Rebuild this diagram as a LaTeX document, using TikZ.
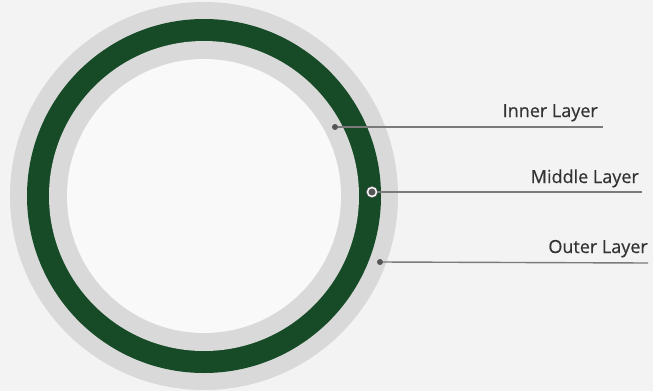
\documentclass[tikz,border=0pt]{standalone}
\usepackage{fontspec}
\setmainfont{Open Sans}
\usetikzlibrary{positioning}
\definecolor{pipegreen}{HTML}{174A26}
\definecolor{pipegrey}{HTML}{D9D9D9}
\definecolor{backgrey}{HTML}{F3F3F3}
\definecolor{dotgrey}{HTML}{555555}
\definecolor{leadgrey}{HTML}{7A7A7A}
\definecolor{textgrey}{HTML}{333333}
\tikzset{
  dot/.style = {circle, fill=dotgrey, inner sep=0pt, minimum size=6pt},
  ringdot/.style = {dot, draw=dotgrey, double=white!90!gray, double distance=1.6pt, line width=0.6pt, minimum size=9pt},
  leader/.style = {draw=leadgrey, line width=1.4pt},
  lbl/.style = {anchor=base east, inner sep=0pt, text=textgrey, font=\fontsize{18}{20}\selectfont\addfontfeature{FakeBold=0.5}}
}

\begin{document}
\begin{tikzpicture}[x=1pt, y=-1pt]
\useasboundingbox[fill=backgrey] (0,0) rectangle (653,391);
% pipe cut
\coordinate (C) at (204,196);
\fill[pipegrey] (C) circle[radius=194];
\fill[pipegreen] (C) circle[radius=177];
\fill[pipegrey] (C) circle[radius=155];
\fill[backgrey!50!white] (C) circle[radius=137];
% markers
\node[dot](innerdot) at (335,127) {};
\node[ringdot](middledot) at (372,192) {};
\node[dot](outerdot) at (380,262) {};
\coordinate (innerend) at (603,127);
\coordinate (middleend) at (642,192);
\coordinate (outerend) at (648,263);
\path[leader](innerdot) -- (innerend);
\path[leader](middledot) -- (middleend);
\path[leader](outerdot) -- (outerend);
% labels
\node[lbl](innertext) at ([xshift=-5pt, yshift=10pt]innerend) {Inner Layer};
\node[lbl](middletext) at ([xshift=-3pt, yshift=9pt]middleend) {Middle Layer};
\node[lbl](outertext) at ([xshift=0pt, yshift=10pt]outerend) {Outer Layer};
\end{tikzpicture}
\end{document}
